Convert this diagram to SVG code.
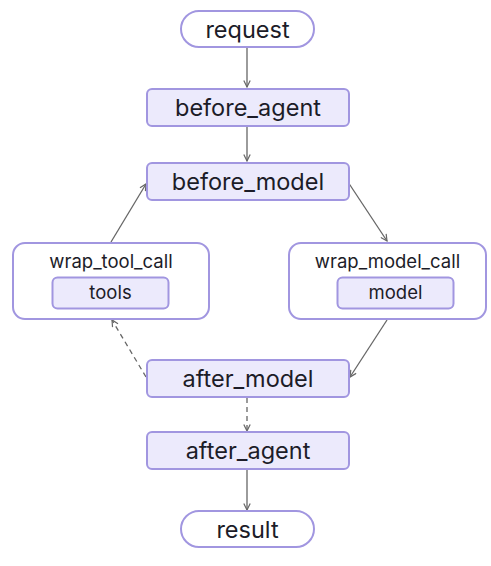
<svg xmlns="http://www.w3.org/2000/svg" width="491" height="566" viewBox="0 0 491 566">
<defs>
<style>
.box{fill:#ECEAFC;stroke:#A196E0;stroke-width:2}
.pill{fill:#FFFFFF;stroke:#A196E0;stroke-width:2}
.grp{fill:#FFFFFF;stroke:#A196E0;stroke-width:2}
.t{font-family:Inter,"Liberation Sans",sans-serif;fill:#1C1C28;text-anchor:middle}
.big{font-size:23.5px}
.small{font-size:18.5px}
.edge{stroke:#666666;stroke-width:1.3;fill:none;marker-end:url(#arr)}
.dash{stroke-dasharray:5,4}
</style>
<marker id="arr" viewBox="0 0 10 10" refX="9" refY="5" markerWidth="8" markerHeight="8" markerUnits="userSpaceOnUse" orient="auto">
<path d="M1,1 L9,5 L1,9" fill="none" stroke="#666666" stroke-width="1.5"/>
</marker>
</defs>
<rect width="491" height="566" fill="#FFFFFF"/>
<g id="connectors">
<line class="edge" x1="247" y1="47" x2="247" y2="87"/>
<line class="edge" x1="247" y1="126" x2="247" y2="161"/>
<line class="edge" x1="348" y1="182" x2="387" y2="241"/>
<line class="edge" x1="387" y1="320" x2="350" y2="377"/>
<line class="edge dash" x1="146" y1="377" x2="112" y2="320"/>
<line class="edge" x1="111" y1="242" x2="146" y2="184"/>
<line class="edge dash" x1="247" y1="398" x2="247" y2="431"/>
<line class="edge" x1="247" y1="470" x2="247" y2="510"/>
</g>
<g id="request">
<rect class="pill" x="181" y="11" width="133" height="36" rx="18"/>
<text class="t big" x="247.5" y="37.5">request</text>
</g>
<g id="before_agent">
<rect class="box" x="147" y="89" width="202" height="37" rx="5"/>
<text class="t big" x="248" y="115.5">before_agent</text>
</g>
<g id="before_model">
<rect class="box" x="147" y="163" width="202" height="37" rx="5"/>
<text class="t big" x="248" y="189.5">before_model</text>
</g>
<g id="wrap_tool_call">
<rect class="grp" x="13" y="243" width="196" height="76" rx="12"/>
<text class="t small" x="111" y="267.5">wrap_tool_call</text>
</g>
<g id="tools">
<rect class="box" x="52.5" y="277.5" width="116" height="31" rx="5"/>
<text class="t small" x="110.5" y="299">tools</text>
</g>
<g id="wrap_model_call">
<rect class="grp" x="289" y="243" width="197" height="76" rx="12"/>
<text class="t small" x="387.5" y="267.5">wrap_model_call</text>
</g>
<g id="model">
<rect class="box" x="337.5" y="277.5" width="116" height="31" rx="5"/>
<text class="t small" x="395.5" y="299">model</text>
</g>
<g id="after_model">
<rect class="box" x="147" y="360" width="202" height="37" rx="5"/>
<text class="t big" x="248" y="386.5">after_model</text>
</g>
<g id="after_agent">
<rect class="box" x="147" y="432" width="202" height="37" rx="5"/>
<text class="t big" x="248" y="458.5">after_agent</text>
</g>
<g id="result">
<rect class="pill" x="181" y="511" width="133" height="36" rx="18"/>
<text class="t big" x="247.5" y="537.5">result</text>
</g>
</svg>
